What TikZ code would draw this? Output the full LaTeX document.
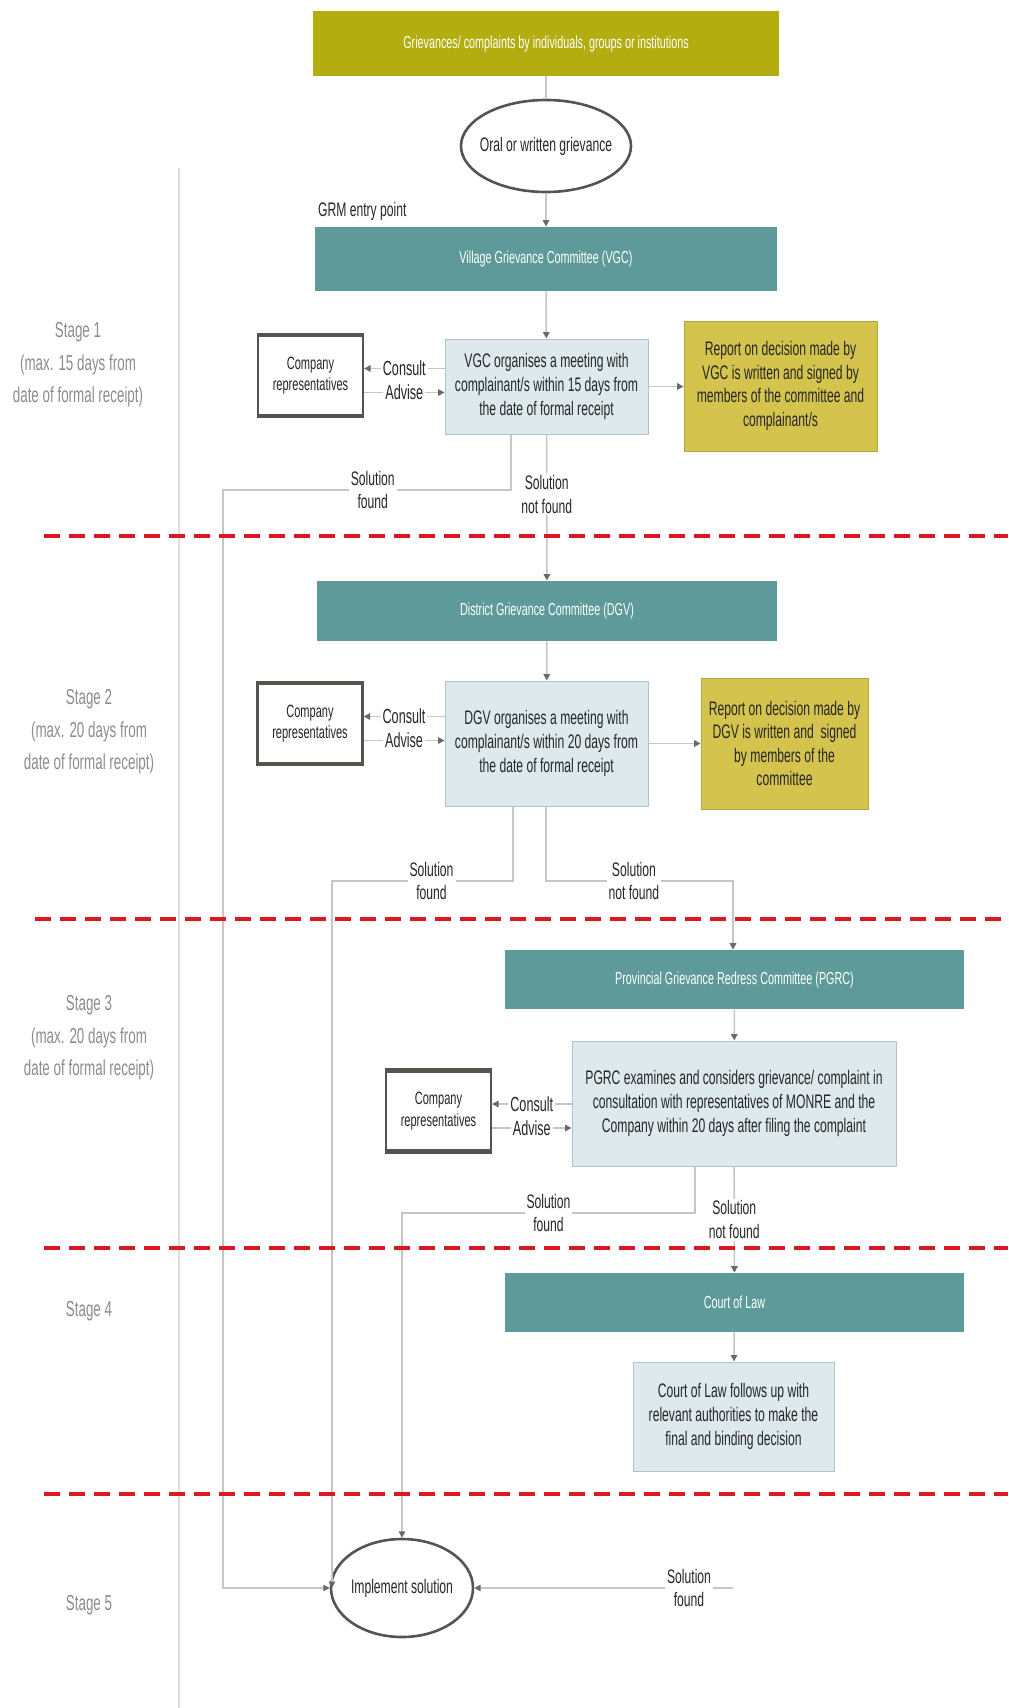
\documentclass[tikz,border=0pt]{standalone}
\usepackage{fontspec}
\setmainfont{Liberation Sans}[FakeStretch=0.62]
\usetikzlibrary{arrows.meta,shapes.geometric}
\definecolor{grmolive}{RGB}{179,173,16}
\definecolor{grmyellow}{RGB}{212,196,78}
\definecolor{grmteal}{RGB}{94,154,154}
\definecolor{grmpale}{RGB}{221,233,236}
\definecolor{grmedge}{RGB}{178,196,202}
\definecolor{grmline}{RGB}{198,198,198}
\definecolor{grmtip}{RGB}{105,105,105}
\definecolor{grmdark}{RGB}{85,85,80}
\definecolor{grmgray}{RGB}{140,140,140}
\definecolor{grmred}{RGB}{222,24,32}
\begin{document}
\begin{tikzpicture}[x=0.5pt,y=-0.5pt,
    every node/.style={align=center,text=black!85,font=\fontsize{9.8}{11.8}\selectfont},
    bar/.style={rectangle,fill=grmteal,text=white,font=\fontsize{8.7}{10}\selectfont,inner sep=0pt},
    meet/.style={rectangle,fill=grmpale,draw=grmedge,line width=0.5pt,inner sep=2pt},
    report/.style={rectangle,fill=grmyellow,draw=grmyellow!85!black,line width=0.4pt,inner sep=2pt},
    comp/.style={rectangle,draw=grmdark,line width=1.1pt,fill=white,font=\fontsize{8.9}{10.8}\selectfont,minimum width=52.5pt,minimum height=39.5pt,inner sep=1pt},
    oval/.style={ellipse,draw=grmdark,line width=1.3pt,inner xsep=-7pt,inner ysep=0pt},
    lbl/.style={fill=white,inner sep=1pt},
    stage/.style={text=grmgray,font=\fontsize{10.8}{16.3}\selectfont},
    flow/.style={draw=grmline,line width=0.8pt},
    arr/.style={-{Triangle[length=3.2pt,width=3.2pt,color=grmtip]}},
    stagecut/.style={draw=grmred,line width=1.8pt,dash pattern=on 8.2pt off 4.3pt}]
    \useasboundingbox (0,0) rectangle (1008,1708);
    \draw[grmline!60,line width=0.6pt] (179,168) -- (179,1708);

    \node[stage] (st1) at (78,365) {Stage 1\\(max. 15 days from\\date of formal receipt)};
    \node[stage] (st2) at (89,732) {Stage 2\\(max. 20 days from\\date of formal receipt)};
    \node[stage] (st3) at (89,1038) {Stage 3\\(max. 20 days from\\date of formal receipt)};
    \node[stage] (st4) at (89,1311) {Stage 4};
    \node[stage] (st5) at (89,1605) {Stage 5};

    \node[bar,fill=grmolive,minimum width=233pt,minimum height=32.5pt] (head) at (546,43.5) {Grievances/ complaints by individuals, groups or institutions};
    \node[oval,minimum width=85pt,minimum height=46pt] (oral) at (546,146) {Oral or written grievance};
    \node[anchor=west] (entry) at (311,211) {GRM entry point};
    \node[bar,minimum width=231pt,minimum height=32pt] (vgc) at (546,259) {Village Grievance Committee (VGC)};
    \node[comp] (cr1) at (310.5,375.5) {Company\\representatives};
    \node[meet,minimum width=101.5pt,minimum height=47.5pt] (m1) at (546.5,386.5) {VGC organises a meeting with\\complainant/s within 15 days from\\the date of formal receipt};
    \node[report,minimum width=96.5pt,minimum height=65pt] (rp1) at (780.5,386) {Report on decision made by\\VGC is written and signed by\\members of the committee and\\complainant/s};

    \node[bar,minimum width=230pt,minimum height=30pt] (dgv) at (547,611) {District Grievance Committee (DGV)};
    \node[comp] (cr2) at (310,723.5) {Company\\representatives};
    \node[meet,minimum width=101.5pt,minimum height=62.5pt] (m2) at (546.5,743.5) {DGV organises a meeting with\\complainant/s within 20 days from\\the date of formal receipt};
    \node[report,minimum width=83.5pt,minimum height=65.5pt] (rp2) at (784.5,743.5) {Report on decision made by\\DGV is written and\ \ signed\\by members of the\\committee};

    \node[bar,minimum width=229.5pt,minimum height=29.5pt] (pgrc) at (734.5,979.5) {Provincial Grievance Redress Committee (PGRC)};
    \node[comp] (cr3) at (438.5,1111) {Company\\representatives};
    \node[meet,minimum width=162pt,minimum height=62.5pt] (m3) at (734,1103.5) {PGRC examines and considers grievance/ complaint in\\consultation with representatives of MONRE and the\\Company within 20 days after filing the complaint};

    \node[bar,minimum width=229.5pt,minimum height=29.5pt] (court) at (734.5,1302.5) {Court of Law};
    \node[meet,minimum width=100.5pt,minimum height=54.5pt] (law) at (733.5,1416.5) {Court of Law follows up with\\relevant authorities to make the\\final and binding decision};

    \node[oval,minimum width=71pt,minimum height=49pt] (imp) at (402,1588) {Implement solution};

    \draw[flow] (head) -- (oral);
    \draw[flow,arr] (oral) -- (vgc);
    \draw[flow,arr] (vgc) -- (m1);
    \draw[flow,arr] (dgv) -- (m2);
    \draw[flow,arr] (pgrc) -- (m3);
    \draw[flow,arr] (court) -- (law);
    \draw[flow,arr] (m1.east) -- (m1.east -| rp1.west);
    \draw[flow,arr] (m2.east) -- (m2.east -| rp2.west);

    \foreach \s in {1,2,3}{
        \path (cr\s.east) ++(0,-7) coordinate (co\s) (cr\s.east) ++(0,17) coordinate (ad\s);
        \draw[flow,arr] (m\s.west |- co\s) -- node[lbl,font=\fontsize{10.2}{11}\selectfont]{Consult} (co\s);
        \draw[flow,arr] (ad\s) -- node[lbl,font=\fontsize{10.2}{11}\selectfont]{Advise} (m\s.west |- ad\s);
        \draw[grmdark,line width=2pt] (cr\s.north west) -- (cr\s.north east) (cr\s.south west) -- (cr\s.south east);
    }

    \coordinate (s1) at (511,490);
    \coordinate (k1) at (223,490);
    \draw[flow,arr] (m1.south -| s1) -- (s1) -- node[lbl,pos=0.48]{Solution\\found} (k1) |- (imp.west);
    \draw[flow,arr] (m1) -- node[lbl,pos=0.41]{Solution\\not found} (dgv);

    \coordinate (s2) at (513,881);
    \coordinate (k2) at (332,881);
    \draw[flow,arr] (m2.south -| s2) -- (s2) -- node[lbl,pos=0.45]{Solution\\found} (k2) -- (k2 |- imp.west);
    \coordinate (n2) at (546,881);
    \coordinate (r2) at (733,881);
    \draw[flow,arr] (m2.south -| n2) -- (n2) -- node[lbl,pos=0.47]{Solution\\not found} (r2) -- (r2 |- pgrc.north);

    \coordinate (s3) at (695,1213);
    \coordinate (k3) at (402,1213);
    \draw[flow,arr] (m3.south -| s3) -- (s3) -- node[lbl,pos=0.5]{Solution\\found} (k3) -- (imp);
    \draw[flow,arr] (m3) -- node[lbl,pos=0.5]{Solution\\not found} (court);

    \coordinate (r5) at (733,1588);
    \draw[flow,arr] (r5) -- node[lbl,pos=0.17]{Solution\\found} (imp);

    \foreach \y/\x in {536/44,919/35,1248/44,1494/44}
        \draw[stagecut] (\x,\y) -- (1008,\y);
\end{tikzpicture}
\end{document}
